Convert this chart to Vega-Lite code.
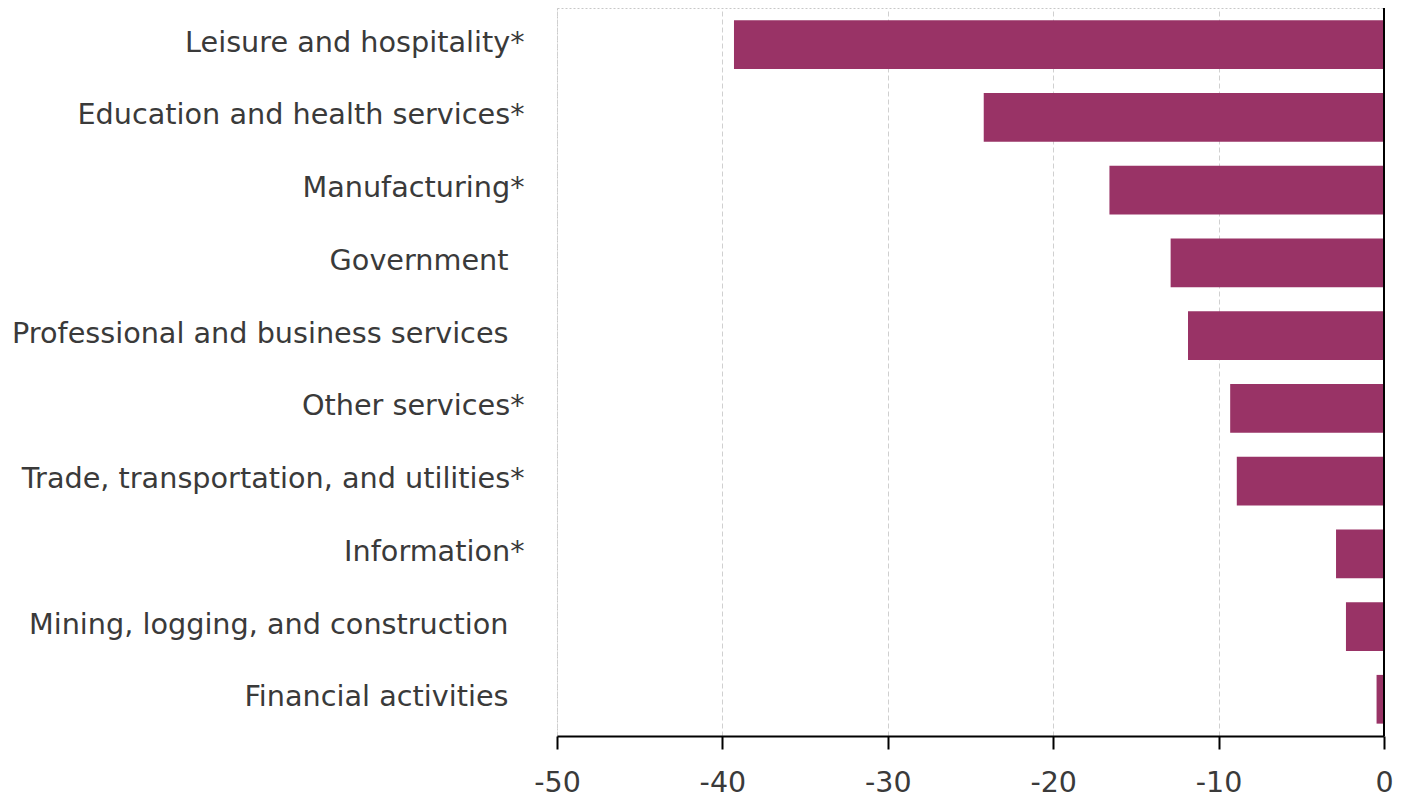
{
  "$schema": "https://vega.github.io/schema/vega-lite/v6.json",
  "autosize": "none",
  "width": 827,
  "height": 728,
  "padding": {"left": 557, "top": 8, "right": 24, "bottom": 61},
  "background": "white",
  "config": {
    "view": {"stroke": "#c8c8c8", "strokeDash": [2, 2], "strokeWidth": 1},
    "font": "DejaVu Sans"
  },
  "data": {
    "values": [
      {"sector": "Leisure and hospitality*", "change": -39.3},
      {"sector": "Education and health services*", "change": -24.2},
      {"sector": "Manufacturing*", "change": -16.6},
      {"sector": "Government", "change": -12.9},
      {"sector": "Professional and business services", "change": -11.85},
      {"sector": "Other services*", "change": -9.3},
      {"sector": "Trade, transportation, and utilities*", "change": -8.9},
      {"sector": "Information*", "change": -2.9},
      {"sector": "Mining, logging, and construction", "change": -2.3},
      {"sector": "Financial activities", "change": -0.45}
    ]
  },
  "layer": [
    {
      "mark": {"type": "bar", "color": "#993366"},
      "encoding": {
        "y": {
          "field": "sector", "type": "nominal", "sort": null,
          "scale": {"paddingInner": 0.33, "paddingOuter": 0.17},
          "axis": {
            "title": null, "domain": false, "ticks": false,
            "labelFont": "DejaVu Sans", "labelFontSize": 28.7, "labelColor": "#3a3a3a",
            "labelPadding": {"condition": {"test": "indexof(datum.value, '*') < 0", "value": 49}, "value": 33},
            "labelOffset": -2,
            "labelLimit": 600
          }
        },
        "x": {
          "field": "change", "type": "quantitative",
          "scale": {"domain": [-50, 0], "nice": false},
          "axis": {
            "title": null, "values": [-50, -40, -30, -20, -10, 0],
            "labelExpr": "'' + datum.value",
            "labelFlush": false,
            "grid": true, "gridColor": "#d0d0d0", "gridDash": [5, 3], "gridWidth": 1,
            "domainColor": "#000000", "domainWidth": 2,
            "tickColor": "#000000", "tickWidth": 2, "tickSize": 13,
            "labelFont": "DejaVu Sans", "labelFontSize": 28.5, "labelColor": "#3a3a3a",
            "labelPadding": 19
          }
        }
      }
    },
    {
      "data": {"values": [{"x": 0}]},
      "mark": {"type": "rule", "color": "#000000", "strokeWidth": 2},
      "encoding": {"x": {"field": "x", "type": "quantitative"}}
    }
  ]
}
